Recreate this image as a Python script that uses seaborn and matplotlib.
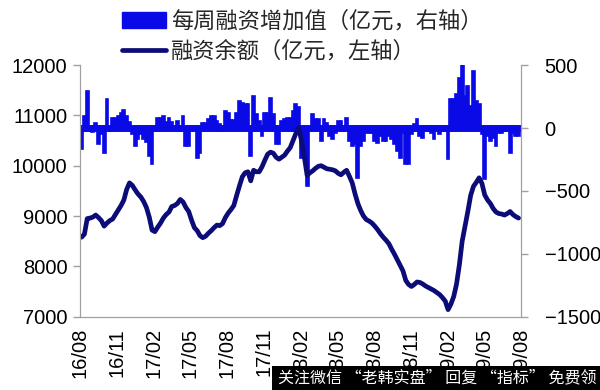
import pandas as pd
import numpy as np
import seaborn as sns
import matplotlib.pyplot as plt
import matplotlib.dates as mdates
from matplotlib.patches import Patch, Rectangle
from matplotlib.lines import Line2D

sns.set_style('white')
plt.rcParams['font.family'] = ['Liberation Sans', 'Noto Sans CJK SC']

# weekly data, first week ending 2016-08-05
start_week = '2016-08-05'

# 融资余额 (亿元, left axis)
balance = [8580, 8640, 8950, 8960, 8980, 9020, 8970, 8910, 8800, 8860,
           8910, 8940, 9030, 9120, 9210, 9320, 9530, 9660, 9610, 9520,
           9440, 9380, 9290, 9170, 8980, 8720, 8690, 8780, 8860, 8960,
           9030, 9080, 9190, 9210, 9250, 9330, 9280, 9170, 9090, 8920,
           8770, 8710, 8610, 8570, 8600, 8660, 8710, 8770, 8820, 8810,
           8850, 8970, 9060, 9130, 9210, 9410, 9600, 9780, 9860, 9880,
           9700, 9910, 9880, 9880, 9980, 10110, 10230, 10270, 10250, 10170,
           10130, 10170, 10210, 10290, 10360, 10500, 10640, 10760, 10500, 10180,
           9810, 9860, 9900, 9950, 9990, 10000, 9970, 9940, 9930, 9920,
           9900, 9850, 9820, 9870, 9910, 9790, 9660, 9440, 9250, 9110,
           9000, 8930, 8900, 8860, 8800, 8730, 8650, 8580, 8520, 8450,
           8340, 8240, 8130, 8020, 7910, 7720, 7640, 7600, 7640, 7690,
           7680, 7650, 7610, 7580, 7550, 7520, 7480, 7440, 7380, 7310,
           7140, 7250, 7400, 7650, 8030, 8500, 8790, 9090, 9410, 9590,
           9670, 9760, 9650, 9420, 9320, 9250, 9150, 9080, 9050, 9040,
           9020, 9050, 9090, 9030, 8990, 8960]

# 每周融资增加值 (亿元, right axis)
weekly_change = [-167, 95, 294, 20, -30, 40, -127, -50, -196, 230,
                 -20, 80, 80, 95, 120, 140, 95, 45, -50, -140,
                 -90, -50, -90, -115, -220, -290, -20, 80, 80, 95,
                 45, 80, 45, 0, 55, -20, 95, -140, -140, -20,
                 -20, -240, -200, 42, 42, 69, 95, 95, 56, 29,
                 -24, 135, 122, 60, 60, 122, 215, 200, 188, 188,
                 -222, 254, 108, 56, -64, 122, 122, 241, 108, -130,
                 -130, 56, 69, 82, 82, 135, 188, 170, -236, -236,
                 -460, 10, 109, 69, 69, -103, 69, 42, -64, -90,
                 -37, 56, 56, 16, 82, -103, -143, -130, -400, -143,
                 -103, -37, -37, -37, -103, -117, -64, -103, -103, -64,
                 -90, -130, -183, -236, -37, -289, -289, -50, 29, 69,
                 -64, -77, 16, 16, -37, -90, 16, -50, -20, -20,
                 -249, 228, 228, 268, 400, 506, 254, 334, 175, 453,
                 215, 188, -50, -408, -64, -103, -77, -143, -37, -37,
                 16, -20, -196, -37, -64, -64]

weeks = pd.date_range(start_week, periods=len(balance), freq='7D')
df = pd.DataFrame({'week': weeks, 'balance': balance, 'change': weekly_change})

bar_color = '#0a0ae6'
line_color = '#0c0c78'
grey = '#a0a0a0'

fig = plt.figure(figsize=(6, 3.9), dpi=100)
ax1 = fig.add_axes([0.1333, 0.188, 0.735, 0.645])
ax2 = ax1.twinx()

# bars on right axis
ax2.bar(df['week'], df['change'], width=7, color=bar_color,
        edgecolor=bar_color, linewidth=1.2)
ax2.axhline(0, color=bar_color, lw=5)
ax2.set_ylim(-1500, 500)
ax2.set_yticks([-1500, -1000, -500, 0, 500])

# line on left axis, drawn above the bars
sns.lineplot(data=df, x='week', y='balance', ax=ax1, color=line_color, lw=3.4)
ax1.set_zorder(ax2.get_zorder() + 1)
ax1.patch.set_visible(False)
ax1.set_ylim(7000, 12000)
ax1.set_yticks(range(7000, 12001, 1000))
ax1.set_xlim(pd.Timestamp('2016-08-01'), pd.Timestamp('2019-08-01'))
ax1.xaxis.set_major_locator(mdates.MonthLocator(bymonth=[2, 5, 8, 11]))
ax1.xaxis.set_major_formatter(mdates.DateFormatter('%y/%m'))
ax1.set_xlabel('')
ax1.set_ylabel('')

for ax in (ax1, ax2):
    for s in ax.spines.values():
        s.set_color(grey)
    ax.spines['top'].set_visible(False)
    ax.tick_params(axis='both', colors=grey, labelcolor='black', labelsize=14.5,
                   length=5, width=1, direction='out')
ax1.tick_params(axis='x', labelrotation=90, pad=3)
ax1.tick_params(axis='y', pad=4)
ax2.tick_params(axis='y', pad=12)

# legend above the plot
handles = [Patch(facecolor=bar_color, edgecolor=bar_color),
           Line2D([], [], color=line_color, lw=3.4)]
labels = ['每周融资增加值（亿元，右轴）', '融资余额（亿元，左轴）']
fig.legend(handles, labels, loc='upper left', bbox_to_anchor=(0.203, 0.975),
           frameon=False, handlelength=2.0, handleheight=0.7, handletextpad=0.2,
           labelspacing=0.3, borderpad=0, borderaxespad=0,
           prop={'family': ['Noto Sans CJK SC'], 'size': 16})

# watermark strip at bottom right
fig.patches.append(Rectangle((0.453, 0.0), 0.547, 0.062, transform=fig.transFigure,
                             facecolor='black', edgecolor='none', zorder=10))
fig.text(0.463, 0.031, '关注微信 “老韩实盘” 回复 “指标” 免费领', color='white',
         fontsize=11.5, va='center', ha='left', zorder=11,
         family=['Noto Sans CJK SC'])

fig.savefig('out.png', dpi=100)
